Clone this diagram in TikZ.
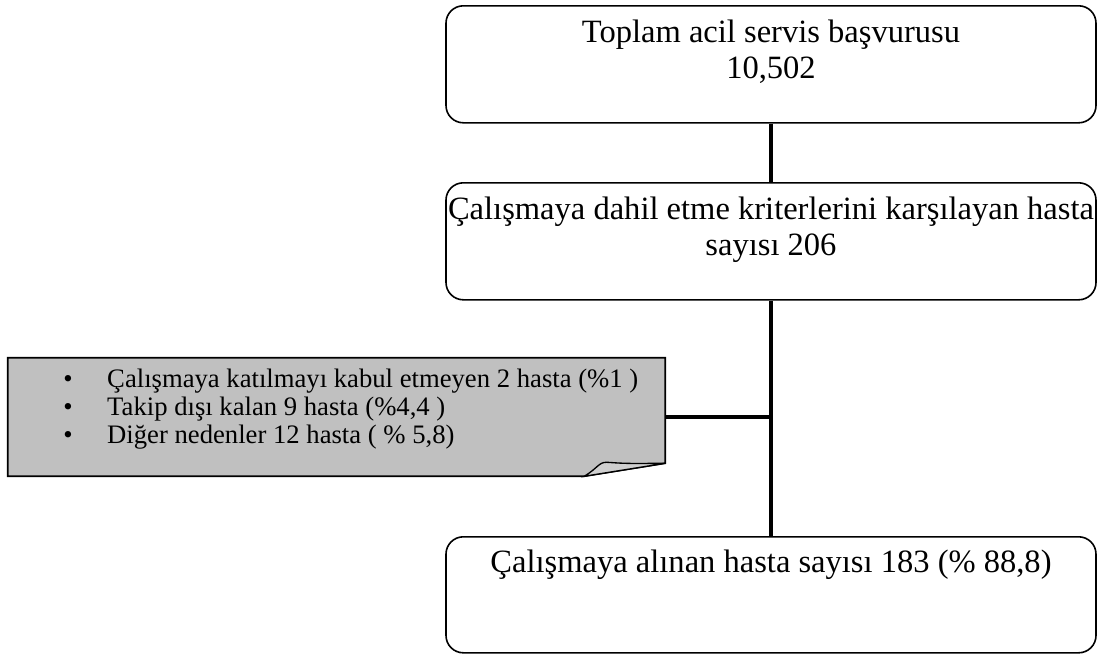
\documentclass[tikz,border=0pt]{standalone}
\usepackage{fontspec}
\setmainfont{Liberation Serif}
\usetikzlibrary{positioning}
\definecolor{notgri}{HTML}{C0C0C0}
\definecolor{katgri}{HTML}{CFCFCF}

\begin{document}
\begin{tikzpicture}[x=0.75pt,y=-0.75pt,
  kutu/.style={draw,line width=1.2pt,rounded corners=13pt,anchor=north,
    minimum width=487.5pt,inner xsep=0pt,inner ysep=0pt,align=center,
    font=\fontsize{24.4}{27}\selectfont},
  cizgi/.style={line width=3pt}]
\useasboundingbox (0,0) rectangle (1097,654);
% kutular
\node[kutu,text height=54.75pt,text depth=33pt] (toplam) at (771,5)
  {Toplam acil servis başvurusu\\10,502};
\node[kutu,text height=54.75pt,text depth=33pt] (dahil) at (771,182)
  {Çalışmaya dahil etme kriterlerini karşılayan hasta\\sayısı 206};
\node[kutu,text height=27pt,text depth=60pt] (alinan) at (771,536)
  {Çalışmaya alınan hasta sayısı 183 (\% 88,8)};
% not kutusu
\node[minimum width=492.75pt,minimum height=88.5pt,inner sep=0pt] (not) at (336.5,417) {};
\draw[line width=1.2pt,fill=notgri] (not.north west) -- (not.north east)
  -- ([yshift=9.75pt]not.south east) -- ([xshift=-60.75pt]not.south east)
  -- (not.south west) -- cycle;
\draw[line width=1pt,fill=katgri] ([xshift=-60.75pt]not.south east)
  .. controls +(10pt,6pt) and +(-6pt,0pt) .. ([xshift=-44pt,yshift=10.5pt]not.south east)
  .. controls +(15pt,-1pt) .. ([yshift=9.75pt]not.south east) -- cycle;
\node[anchor=base west,inner sep=0pt,align=left,font=\fontsize{20}{21}\selectfont] (maddeler) at (63,443)
  {\makebox[33pt][l]{\textbullet}Çalışmaya katılmayı kabul etmeyen 2 hasta (\%1 )\\
   \makebox[33pt][l]{\textbullet}Takip dışı kalan 9 hasta (\%4,4 )\\
   \makebox[33pt][l]{\textbullet}Diğer nedenler 12 hasta ( \% 5,8)};
% baglantilar
\coordinate (kavsak) at (dahil.south |- not.east);
\draw[cizgi] (toplam) -- (dahil);
\draw[cizgi] (dahil) -- (alinan);
\draw[cizgi] (not.east) -- (kavsak);
\end{tikzpicture}
\end{document}
